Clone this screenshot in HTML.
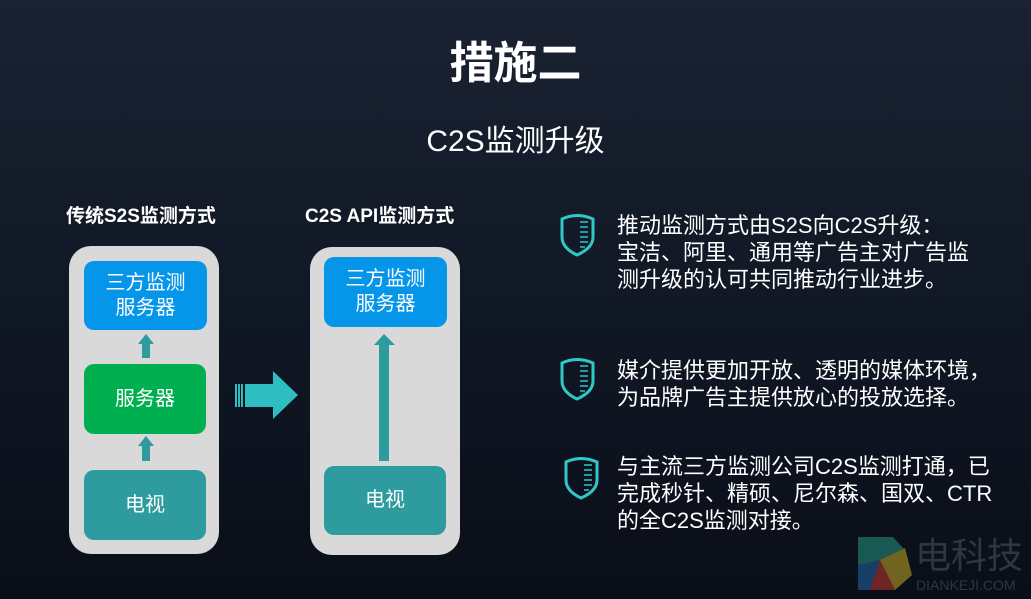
<!DOCTYPE html>
<html><head><meta charset="utf-8"><style>
*{margin:0;padding:0;box-sizing:border-box}
body{width:1031px;height:599px;overflow:hidden;background:linear-gradient(180deg,#1b2333 0%,#121a28 40%,#0a0e18 100%);font-family:"Liberation Sans","Noto Sans CJK SC",sans-serif;color:#fff;position:relative}
.a{position:absolute}
.panel{background:#d9d9d9;border-radius:22px}
.box{border-radius:10px;color:#fff;font-size:20px;line-height:25px;display:flex;align-items:center;justify-content:center;text-align:center}
.blue{background:#0596ea}.green{background:#00b050}.teal{background:#2e9c9f}
.t{font-size:22px;line-height:27px;left:617px;white-space:nowrap}
</style></head><body>
<div class="a" style="left:0;width:1031px;top:36px;text-align:center;font-size:44px;font-weight:bold;line-height:56px">措施二</div>
<div class="a" style="left:0;width:1031px;top:123px;text-align:center;font-size:30px;line-height:38px">C2S监测升级</div>
<div class="a" style="left:66px;top:201px;font-size:19px;font-weight:bold">传统S2S监测方式</div>
<div class="a" style="left:305px;top:201px;font-size:19px;font-weight:bold">C2S API监测方式</div>

<div class="a panel" style="left:69px;top:246px;width:150px;height:308px"></div>
<div class="a box blue" style="left:84px;top:261px;width:123px;height:69px">三方监测<br>服务器</div>
<div class="a box green" style="left:84px;top:364px;width:122px;height:70px">服务器</div>
<div class="a box teal" style="left:84px;top:470px;width:122px;height:70px">电视</div>

<div class="a panel" style="left:310px;top:247px;width:150px;height:308px"></div>
<div class="a box blue" style="left:324px;top:257px;width:123px;height:70px">三方监测<br>服务器</div>
<div class="a box teal" style="left:324px;top:466px;width:122px;height:69px">电视</div>

<svg class="a" style="left:0;top:0" width="1031" height="599">
<g fill="#2e9c9f">
<polygon points="138,344 146,334 154,344 150,344 150,358 142,358 142,344"/>
<polygon points="138,446 146,436 154,446 150,446 150,461 142,461 142,446"/>
<polygon points="374,345 384,334 395,345 389,345 389,461 379,461 379,345"/>
</g>
<g fill="#2ebdc0">
<rect x="235" y="384" width="2" height="23"/><rect x="238" y="384" width="2" height="23"/><rect x="241" y="384" width="2" height="23"/>
<polygon points="245,384 273,384 273,371 298,395 273,419 273,407 245,407"/>
</g>
<g fill="none" stroke="#2ec8c8" stroke-width="3">
<path d="M562,219 Q577,212 593,219 L593,237 Q593,248 577,255 Q562,248 562,237 Z"/>
<path d="M562,363 Q577,356 593,363 L593,381 Q593,392 577,399 Q562,392 562,381 Z"/>
<path d="M566,462 Q581,455 597,462 L597,480 Q597,491 581,498 Q566,491 566,480 Z"/>
</g>
<g stroke="#2ec8c8" stroke-width="1.5">
<path d="M580,222h8M580,227h8M580,232h8M580,237h8M580,242h8M580,247h5"/>
<path d="M580,366h8M580,371h8M580,376h8M580,381h8M580,386h8M580,391h5"/>
<path d="M584,465h8M584,470h8M584,475h8M584,480h8M584,485h8M584,490h5"/>
</g>
<g opacity="0.8">
<polygon points="858,537 893,537 905,550 890,580 858,590" fill="#1d6b62"/>
<polygon points="880,560 905,548 912,575 895,590" fill="#8a7a20"/>
<polygon points="858,565 880,560 870,590 858,590" fill="#1a4a7a"/>
<polygon points="870,590 880,560 895,590" fill="#8a2a2a"/>
</g>
</svg>
<div class="a" style="left:915px;top:536px;font-size:36px;color:#30353e;line-height:40px">电科技</div>
<div class="a" style="left:916px;top:577px;font-size:14px;color:#30353e">DIANKEJI.COM</div>

<div class="a t" style="top:212px">推动监测方式由S2S向C2S升级：<br>宝洁、阿里、通用等广告主对广告监<br>测升级的认可共同推动行业进步。</div>
<div class="a t" style="top:357px">媒介提供更加开放、透明的媒体环境，<br>为品牌广告主提供放心的投放选择。</div>
<div class="a t" style="top:453px">与主流三方监测公司C2S监测打通，已<br>完成秒针、精硕、尼尔森、国双、CTR<br>的全C2S监测对接。</div>
</body></html>
